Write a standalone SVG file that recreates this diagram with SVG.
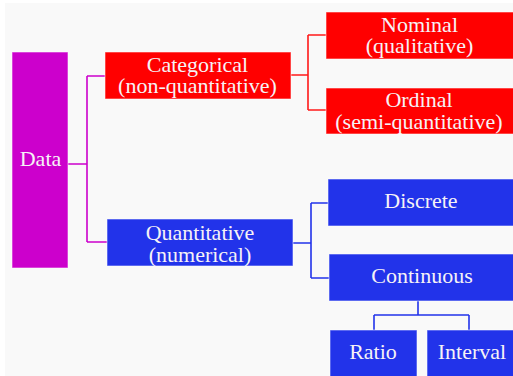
<svg xmlns="http://www.w3.org/2000/svg" width="513" height="376" viewBox="0 0 513 376">
<style>
text{font-family:'Liberation Serif','Times New Roman',serif;font-size:22px;fill:#f6f2f6;text-anchor:middle}
.box{stroke:#ffffff;stroke-opacity:0.55;stroke-width:1}
.mag{fill:#cc00cc}.red{fill:#ff0000}.blue{fill:#2233ea}
.cn{fill:none;stroke-width:1.6}
</style>
<rect width="513" height="376" fill="#ffffff"/>
<rect x="5" y="3" width="508" height="373" fill="#f9f9f9"/>
<g id="connectors">
<path class="cn" stroke="#cc00cc" d="M68 164H87M87 76V242M87 76H105M87 242H107"/>
<path class="cn" stroke="#ff1a1a" d="M291 75H308M308 35V110M308 35H326M308 110H326"/>
<path class="cn" stroke="#2233ea" d="M293 243H311M311 203V278M311 203H328M311 278H329M418 301V315M374 315H469M374 315V330M469 315V330"/>
</g>
<g id="data"><rect class="box mag" x="12" y="52" width="56" height="216"/><text x="40.5" y="166">Data</text></g>
<g id="categorical"><rect class="box red" x="105" y="52" width="186" height="47"/><text x="197.5" y="72">Categorical</text><text x="197.5" y="93">(non-quantitative)</text></g>
<g id="nominal"><rect class="box red" x="326" y="12" width="190" height="47"/><text x="419.5" y="32">Nominal</text><text x="419.5" y="53">(qualitative)</text></g>
<g id="ordinal"><rect class="box red" x="326" y="88" width="190" height="46"/><text x="419" y="107">Ordinal</text><text x="419" y="129">(semi-quantitative)</text></g>
<g id="quantitative"><rect class="box blue" x="107" y="219" width="186" height="47"/><text x="200" y="240">Quantitative</text><text x="200" y="262">(numerical)</text></g>
<g id="discrete"><rect class="box blue" x="328" y="179" width="190" height="47"/><text x="421" y="208">Discrete</text></g>
<g id="continuous"><rect class="box blue" x="329" y="254" width="190" height="47"/><text x="422" y="283">Continuous</text></g>
<g id="ratio"><rect class="box blue" x="330" y="330" width="87" height="50"/><text x="373" y="359">Ratio</text></g>
<g id="interval"><rect class="box blue" x="427" y="330" width="90" height="50"/><text x="472" y="359">Interval</text></g>
</svg>
